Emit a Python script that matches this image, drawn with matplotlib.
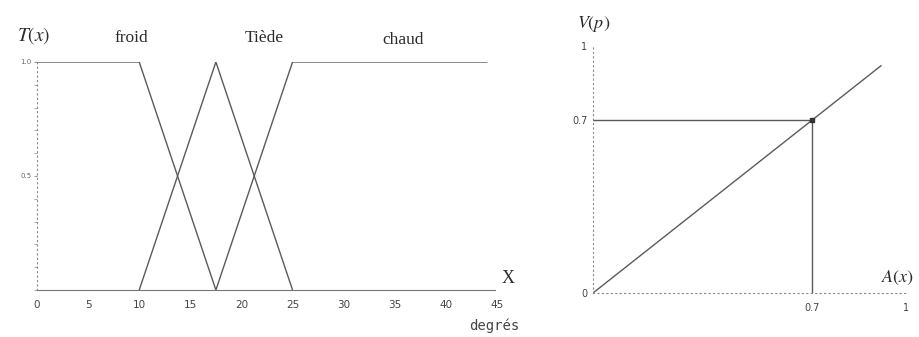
from matplotlib import pyplot as plt
from matplotlib.ticker import MultipleLocator
import numpy as np

plt.rcParams['mathtext.fontset'] = 'stix'

# membership functions (temperature in degrees)
froid_x = [0, 10, 17.5]
froid_y = [1, 1, 0]
tiede_x = [10, 17.5, 25]
tiede_y = [0, 1, 0]
chaud_x = [17.5, 25, 44]
chaud_y = [0, 1, 1]
x_ticks = [0, 5, 10, 15, 20, 25, 30, 35, 40, 45]
y_ticks = [0.5, 1.0]
y_ticklabels = ['0.5', '1.0']

# truth value mapping V(p) = A(x)
diag_x = [0, 0.92]
diag_y = [0, 0.92]
a_val = 0.7
v_val = 0.7

line_col = '#5a5a5a'
text_col = '#2a2a2a'
serif = ['Liberation Serif', 'DejaVu Serif']

fig = plt.figure(figsize=(9.2, 3.37), dpi=100)

# left: fuzzy sets
ax1 = fig.add_axes([37 / 920, 47 / 337, 460 / 920, 228 / 337])
ax1.plot(froid_x, froid_y, color=line_col, lw=1.0)
ax1.plot(tiede_x, tiede_y, color=line_col, lw=1.0)
ax1.plot(chaud_x, chaud_y, color=line_col, lw=1.0)
ax1.set_xlim(0, 45)
ax1.set_ylim(0, 1)
ax1.spines['top'].set_visible(False)
ax1.spines['right'].set_visible(False)
ax1.spines['left'].set_linestyle((0, (1, 3)))
ax1.spines['left'].set_color('#888888')
ax1.spines['bottom'].set_color('#777777')
ax1.spines['bottom'].set_bounds(0, 44.8)
ax1.set_xticks(x_ticks)
ax1.set_xticklabels([str(t) for t in x_ticks], fontsize=7.5, color='#444444')
ax1.set_yticks(y_ticks)
ax1.set_yticklabels(y_ticklabels, fontsize=5, color='#666666')
ax1.yaxis.set_minor_locator(MultipleLocator(0.1))
ax1.tick_params(axis='x', length=0, pad=7)
ax1.tick_params(axis='y', which='both', length=2, color='#999999', pad=2)
ax1.text(-2.0, 1.07, r'$T(x)$', fontsize=14, color=text_col, ha='left', va='bottom')
ax1.text(9.2, 1.07, 'froid', fontsize=12.5, color=text_col, ha='center', va='bottom', family=serif)
ax1.text(22.2, 1.07, 'Tiède', fontsize=12.5, color=text_col, ha='center', va='bottom', family=serif)
ax1.text(35.8, 1.06, 'chaud', fontsize=12.5, color=text_col, ha='center', va='bottom', family=serif)
ax1.text(46.1, 0.05, 'X', fontsize=13, color=text_col, ha='center', va='center', family=serif)
ax1.text(47.2, -0.155, 'degrés', fontsize=10, color='#444444', ha='right', va='center',
         family='DejaVu Sans Mono', clip_on=False)
ax1.patch.set_alpha(0)

# right: V(p) against A(x)
ax2 = fig.add_axes([593 / 920, 44 / 337, 313 / 920, 247 / 337])
ax2.plot(diag_x, diag_y, color=line_col, lw=1.0)
ax2.plot([0, a_val], [v_val, v_val], color=line_col, lw=1.0)
ax2.plot([a_val, a_val], [0, v_val], color=line_col, lw=1.0)
ax2.plot([a_val], [v_val], 's', color='#333333', ms=2.5)
ax2.set_xlim(0, 1)
ax2.set_ylim(0, 1)
ax2.spines['top'].set_visible(False)
ax2.spines['right'].set_visible(False)
for s in ('left', 'bottom'):
    ax2.spines[s].set_linestyle((0, (1, 3)))
    ax2.spines[s].set_color('#888888')
ax2.set_xticks([a_val, 1])
ax2.set_xticklabels(['0.7', '1'], fontsize=7, color='#444444')
ax2.set_yticks([0, v_val, 1])
ax2.set_yticklabels(['0', '0.7', '1'], fontsize=7, color='#444444')
ax2.tick_params(length=0, pad=4)
ax2.tick_params(axis='x', pad=7)
ax2.text(-0.05, 1.05, r'$V(p)$', fontsize=13, color=text_col, ha='left', va='bottom')
ax2.text(0.92, 0.06, r'$A(x)$', fontsize=13, color=text_col, ha='left', va='center',
         clip_on=False)
ax2.patch.set_alpha(0)

plt.savefig('out.png', dpi=100)
